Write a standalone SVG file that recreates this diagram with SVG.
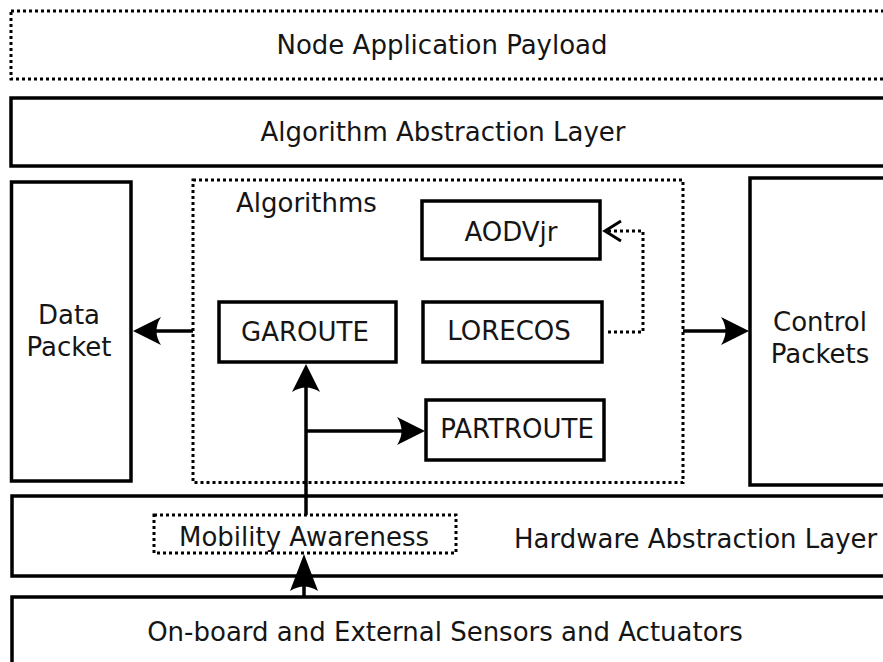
<svg xmlns="http://www.w3.org/2000/svg" width="883" height="662" viewBox="0 0 883 662">
  <style>
    .box { fill: #ffffff; stroke: #000000; stroke-width: 3.5; }
    .dotbox { fill: none; stroke: #000000; stroke-width: 3; stroke-dasharray: 3 3; }
    .label { font-family: "DejaVu Sans", "Liberation Sans", sans-serif; font-size: 26px; fill: #151515; }
    .mid { text-anchor: middle; }
    .wire { fill: none; stroke: #000000; stroke-width: 3.5; }
    .dotwire { fill: none; stroke: #000000; stroke-width: 3; stroke-dasharray: 3 3; }
  </style>
  <defs>
    <!-- concave arrowhead, tip sits 10 units past the line end -->
    <marker id="head" markerUnits="userSpaceOnUse" orient="auto" refX="0" refY="0" markerWidth="60" markerHeight="60" viewBox="-30 -30 60 60" overflow="visible">
      <path d="M10,0 L-18,-14 Q-9,0 -18,14 Z" fill="#000000"/>
    </marker>
    <marker id="headLong" markerUnits="userSpaceOnUse" orient="auto" refX="0" refY="0" markerWidth="80" markerHeight="60" viewBox="-40 -30 80 60" overflow="visible">
      <path d="M10,0 L-27,-14 Q-18,0 -27,14 Z" fill="#000000"/>
    </marker>
  </defs>

  <rect width="883" height="662" fill="#ffffff"/>

  <g id="node-application-payload">
    <rect class="dotbox" x="11" y="11" width="900" height="68"/>
    <text class="label mid" x="442" y="54">Node Application Payload</text>
  </g>

  <g id="algorithm-abstraction-layer">
    <rect class="box" x="11" y="98" width="900" height="68"/>
    <text class="label mid" x="443" y="141">Algorithm Abstraction Layer</text>
  </g>

  <g id="data-packet">
    <rect class="box" x="11.5" y="182" width="119.5" height="299"/>
    <text class="label mid" x="69" y="324">Data</text>
    <text class="label mid" x="69" y="356">Packet</text>
  </g>

  <g id="algorithms">
    <rect class="dotbox" x="193" y="180" width="490" height="302.5"/>
    <text class="label" x="236" y="212">Algorithms</text>
  </g>

  <g id="aodvjr">
    <rect class="box" x="422" y="201" width="178" height="58"/>
    <text class="label mid" x="511" y="241">AODVjr</text>
  </g>

  <g id="garoute">
    <rect class="box" x="219" y="302" width="177" height="60"/>
    <text class="label mid" x="305" y="341">GAROUTE</text>
  </g>

  <g id="lorecos">
    <rect class="box" x="423" y="302" width="179" height="60"/>
    <text class="label mid" x="509" y="340">LORECOS</text>
  </g>

  <g id="partroute">
    <rect class="box" x="426" y="400" width="178" height="60"/>
    <text class="label mid" x="517" y="438">PARTROUTE</text>
  </g>

  <g id="control-packets">
    <rect class="box" x="750" y="178" width="160" height="307"/>
    <text class="label mid" x="820" y="331">Control</text>
    <text class="label mid" x="820" y="363">Packets</text>
  </g>

  <g id="hardware-abstraction-layer">
    <rect class="box" x="12" y="496" width="900" height="80"/>
    <text class="label" x="514" y="548">Hardware Abstraction Layer</text>
  </g>

  <g id="mobility-awareness">
    <rect class="dotbox" x="154" y="515" width="302" height="38"/>
    <text class="label mid" x="304" y="546">Mobility Awareness</text>
  </g>

  <g id="sensors-actuators">
    <rect class="box" x="12" y="597" width="900" height="80"/>
    <text class="label mid" x="445" y="641">On-board and External Sensors and Actuators</text>
  </g>

  <g id="connectors">
    <!-- algorithms to data packet -->
    <line class="wire" x1="193" y1="331" x2="143" y2="331" marker-end="url(#head)"/>
    <!-- algorithms to control packets -->
    <line class="wire" x1="683" y1="331" x2="739" y2="331" marker-end="url(#head)"/>
    <!-- mobility awareness up to GAROUTE -->
    <line class="wire" x1="306" y1="515" x2="306" y2="374" marker-end="url(#head)"/>
    <!-- branch to PARTROUTE -->
    <line class="wire" x1="306" y1="431" x2="415" y2="431" marker-end="url(#head)"/>
    <!-- sensors up to mobility awareness -->
    <line class="wire" x1="304" y1="597" x2="304" y2="564" marker-end="url(#headLong)"/>
    <!-- LORECOS to AODVjr, dotted -->
    <path class="dotwire" d="M608,332 H643 V231 H607"/>
    <path d="M621,221 L605,231 L621,241" fill="none" stroke="#000000" stroke-width="3"/>
  </g>
</svg>
